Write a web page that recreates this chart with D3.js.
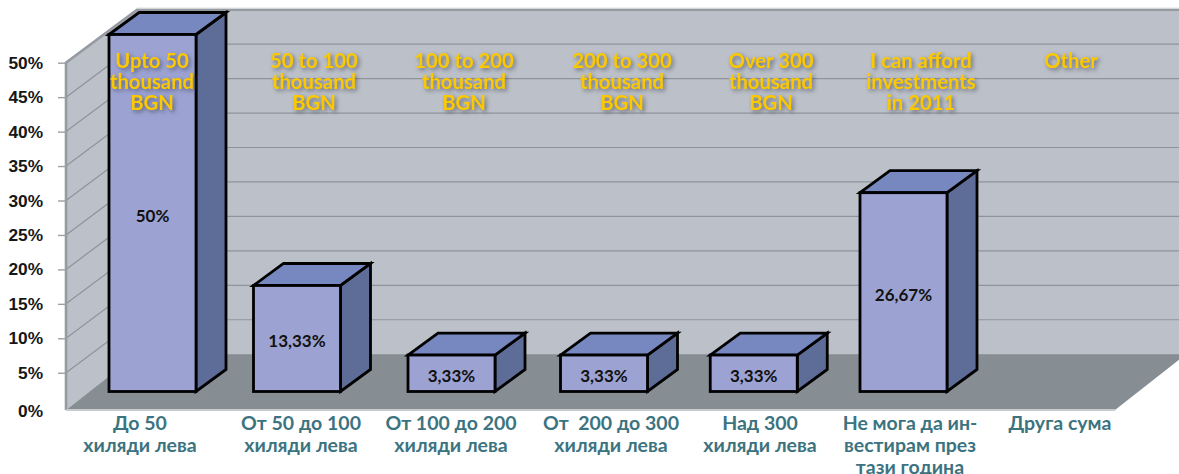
<!DOCTYPE html>
<html lang="bg">
<head>
<meta charset="utf-8">
<script src="https://cdn.jsdelivr.net/npm/d3@7"></script>
<style>
  html, body { margin: 0; background: #fff; }
  svg { display: block; font-family: Lato, "Noto Sans", sans-serif; }
  text { white-space: pre; }
  .yellow { filter: drop-shadow(2px 2px 2px rgba(60,65,80,.7)); }
</style>
</head>
<body>
<svg id="chart" width="1179" height="474"></svg>
<script>
// Investment ranges: share of respondents per category, in percent
const categoriesBg = [
  ["До 50", "хиляди лева"],
  ["От 50 до 100", "хиляди лева"],
  ["От 100 до 200", "хиляди лева"],
  ["От  200 до 300", "хиляди лева"],
  ["Над 300", "хиляди лева"],
  ["Не мога да ин-", "вестирам през", "тази година"],
  ["Друга сума"]
];
const categoriesEn = [
  ["Upto 50", "thousand", "BGN"],
  ["50 to 100", "thousand", "BGN"],
  ["100 to 200", "thousand", "BGN"],
  ["200 to 300", "thousand", "BGN"],
  ["Over 300", "thousand", "BGN"],
  ["I can afford", "investments", "in 2011"],
  ["Other"]
];
const values = [50, 13.33, 3.33, 3.33, 3.33, 26.67, 0];
const valueLabels = ["50%", "13,33%", "3,33%", "3,33%", "3,33%", "26,67%", ""];
const axisTicks = [0, 5, 10, 15, 20, 25, 30, 35, 40, 45, 50];

const svg = d3.select("#chart");

// Axis scale on the front plane of the box; the back wall is the same scale shifted by the depth
const y = d3.scaleLinear().domain([0, 50]).range([407.2, 62.7]);
const wallDx = 71, wallDy = -53;
const left = 66, right = 1115, floorY = 410;

// Bars stand inside the box, on a base in front of the back wall
const barBase = 391.5;
const barHeightTop = d3.scaleLinear().domain([0, 26.67, 50]).range([378.2, 192.7, 34.5]);
const barX = d3.scaleLinear().domain([0, 1, 2, 3, 5]).range([109, 253.5, 408, 560.5, 860]);
const barW = 87, barDx = 30, barDy = -22;
const bgX = d3.scaleLinear().domain([0, 1, 2, 3, 4, 6]).range([140, 301, 451, 611, 760, 1060]);
const enX = d3.scaleLinear().domain([0, 1, 2, 3, 4, 6]).range([152, 314, 464, 622, 771, 1071]);

const poly = pts => pts.map(p => p.join(",")).join(" ");

// Walls and floor
const box = svg.append("g");
box.append("rect")
  .attr("x", left + wallDx).attr("y", y(50) + wallDy)
  .attr("width", 1179 - left - wallDx).attr("height", y(0) - y(50) + 1)
  .attr("fill", "#bcc0c8");
box.append("polygon")
  .attr("points", poly([[left, y(50)], [left + wallDx, y(50) + wallDy], [left + wallDx, y(0) + wallDy], [left, floorY]]))
  .attr("fill", "#bcc0c8");

// Grid lines along the side wall and the back wall
const grid = box.append("g").attr("stroke", "#8e939c").attr("stroke-width", 1.2).attr("fill", "none");
grid.selectAll("polyline").data(axisTicks.filter(t => t > 0 && t < 50)).join("polyline")
  .attr("points", t => poly([[left, y(t)], [left + wallDx, y(t) + wallDy], [1179, y(t) + wallDy]]));

box.append("polygon")
  .attr("points", poly([[left, floorY], [left + wallDx, y(0) + wallDy], [right + wallDx, y(0) + wallDy], [right, floorY]]))
  .attr("fill", "#868d93");

// Box outline
box.append("polyline")
  .attr("points", poly([[left, floorY], [left, y(50)], [left + wallDx, y(50) + wallDy], [1179, y(50) + wallDy]]))
  .attr("fill", "none").attr("stroke", "#959ba1").attr("stroke-width", 2.6);
box.append("line")
  .attr("x1", left + wallDx).attr("x2", 1179)
  .attr("y1", y(50) + wallDy - 1.6).attr("y2", y(50) + wallDy - 1.6)
  .attr("stroke", "#d8dadd").attr("stroke-width", 1);
box.append("line")
  .attr("x1", left).attr("x2", right).attr("y1", floorY).attr("y2", floorY)
  .attr("stroke", "#c6cbd0").attr("stroke-width", 2);

// Y axis: ticks and labels
const axis = d3.axisLeft(y).tickValues(axisTicks.filter(t => t > 0)).tickSize(8).tickPadding(15)
  .tickFormat(d => d + "%");
const axisG = svg.append("g").attr("transform", `translate(${left},0)`).call(axis);
axisG.select(".domain").remove();
axisG.selectAll("line").attr("stroke", "#9aa0a6").attr("stroke-width", 1.4);
axisG.selectAll("text").attr("fill", "#161616").attr("font-size", 17.3).attr("font-weight", 700)
  .attr("font-family", "inherit");
axisG.append("text").attr("x", 43 - left).attr("y", 411).attr("dy", "0.32em").attr("text-anchor", "end")
  .attr("fill", "#161616").attr("font-size", 17.3).attr("font-weight", 700).text("0%");

// Three visible faces of each bar
const bars = svg.append("g").attr("stroke", "#000").attr("stroke-width", 2.8).attr("stroke-linejoin", "miter");
const shown = values.map((v, i) => ({ v, i })).filter(d => d.v > 0);
const barG = bars.selectAll("g").data(shown).join("g");
barG.append("polygon").attr("fill", "#5e6d98").attr("points", d => {
  const r = barX(d.i) + barW, t = barHeightTop(d.v);
  return poly([[r, t], [r + barDx, t + barDy], [r + barDx, barBase + barDy], [r, barBase]]);
});
barG.append("polygon").attr("fill", "#7787bf").attr("points", d => {
  const l = barX(d.i), r = l + barW, t = barHeightTop(d.v);
  return poly([[l, t], [l + barDx, t + barDy], [r + barDx, t + barDy], [r, t]]);
});
barG.append("rect").attr("fill", "#9ca3d3")
  .attr("x", d => barX(d.i)).attr("width", barW)
  .attr("y", d => barHeightTop(d.v)).attr("height", d => barBase - barHeightTop(d.v));

// Value labels in the middle of the front faces
svg.append("g").selectAll("text").data(shown).join("text")
  .attr("x", d => barX(d.i) + barW / 2)
  .attr("y", d => (barHeightTop(d.v) + barBase) / 2 + 3)
  .attr("dy", "0.35em").attr("text-anchor", "middle")
  .attr("font-size", 17).attr("font-weight", 700).attr("fill", "#111")
  .text(d => valueLabels[d.i]);

// One text element per caption, one tspan per line
function multiline(group, rows, xScale, firstY, step) {
  group.selectAll("text").data(rows).join("text")
    .attr("text-anchor", "middle")
    .each(function (lines, i) {
      d3.select(this).selectAll("tspan").data(lines).join("tspan")
        .attr("x", xScale(i)).attr("y", (_, k) => firstY + k * step)
        .attr("dy", "0.35em")
        .text(d => d);
    });
}

// English captions across the upper part of the chart
const en = svg.append("g").attr("class", "yellow")
  .attr("fill", "#fcc800").attr("font-size", 20.3).attr("font-weight", 700);
multiline(en, categoriesEn, enX, 60.5, 21);

// Bulgarian category names under the floor
const bg = svg.append("g").attr("fill", "#3c7380").attr("font-size", 19.5).attr("font-weight", 700);
multiline(bg, categoriesBg, bgX, 423, 22);
</script>
</body>
</html>
